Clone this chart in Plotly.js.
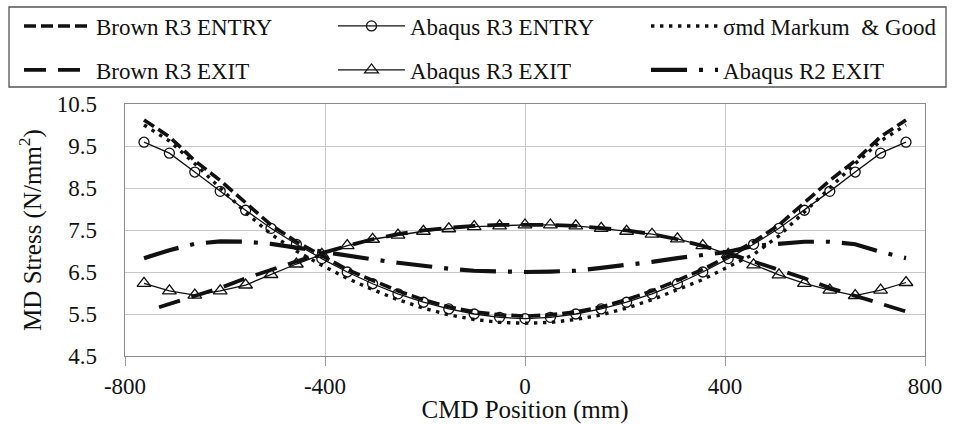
<!DOCTYPE html>
<html>
<head>
<meta charset="utf-8">
<script src="https://cdn.plot.ly/plotly-3.0.1.min.js"></script>
<style>html,body{margin:0;padding:0;background:#fff;}#chart{width:953px;height:424px;}</style>
</head>
<body>
<div id="chart"></div>
<script>
// CMD positions (mm), 2-inch spacing
const cmdX = [-762, -711.2, -660.4, -609.6, -558.8, -508, -457.2, -406.4, -355.6, -304.8, -254, -203.2, -152.4, -101.6, -50.8, 0,
              50.8, 101.6, 152.4, 203.2, 254, 304.8, 355.6, 406.4, 457.2, 508, 558.8, 609.6, 660.4, 711.2, 762];
const brownExitX = [-732, -711.2, -660.4, -609.6, -558.8, -508, -457.2, -406.4, -355.6, -304.8, -254, -203.2, -152.4, -101.6, -50.8, 0,
              50.8, 101.6, 152.4, 203.2, 254, 304.8, 355.6, 406.4, 457.2, 508, 558.8, 609.6, 660.4, 711.2, 762];

const brownR3Entry = [10.12, 9.72, 9.15, 8.68, 8.15, 7.62, 7.22, 6.88, 6.56, 6.30, 6.05, 5.84, 5.67, 5.55, 5.48, 5.45,
                      5.48, 5.55, 5.67, 5.84, 6.05, 6.30, 6.56, 6.88, 7.22, 7.62, 8.15, 8.68, 9.15, 9.72, 10.12];
const abaqusR3Entry = [9.59, 9.33, 8.88, 8.42, 7.97, 7.54, 7.16, 6.82, 6.50, 6.22, 5.98, 5.78, 5.62, 5.50, 5.42, 5.39,
                       5.42, 5.50, 5.62, 5.78, 5.98, 6.22, 6.50, 6.82, 7.16, 7.54, 7.97, 8.42, 8.88, 9.33, 9.59];
const sigmaMarkum = [10.00, 9.62, 9.08, 8.50, 7.92, 7.40, 7.00, 6.66, 6.35, 6.08, 5.84, 5.64, 5.48, 5.37, 5.30, 5.28,
                     5.30, 5.37, 5.48, 5.64, 5.84, 6.08, 6.32, 6.62, 6.92, 7.36, 7.92, 8.50, 9.08, 9.62, 10.00];
const brownR3Exit = [5.66, 5.74, 5.93, 6.12, 6.35, 6.55, 6.75, 6.95, 7.12, 7.28, 7.40, 7.49, 7.55, 7.60, 7.62, 7.63,
                     7.62, 7.60, 7.55, 7.49, 7.40, 7.28, 7.12, 6.95, 6.75, 6.55, 6.35, 6.12, 5.93, 5.74, 5.56];
const abaqusR3Exit = [6.23, 6.05, 5.95, 6.05, 6.19, 6.44, 6.69, 6.92, 7.13, 7.28, 7.38, 7.47, 7.53, 7.58, 7.60, 7.62,
                      7.62, 7.60, 7.54, 7.47, 7.40, 7.29, 7.13, 6.92, 6.67, 6.43, 6.23, 6.07, 5.94, 6.07, 6.25];
const abaqusR2Exit = [6.83, 7.02, 7.17, 7.23, 7.22, 7.17, 7.08, 6.98, 6.88, 6.80, 6.72, 6.64, 6.58, 6.53, 6.51, 6.50,
                      6.51, 6.53, 6.60, 6.66, 6.74, 6.83, 6.90, 6.98, 7.12, 7.18, 7.22, 7.22, 7.16, 6.98, 6.83];

const seriesNames = ['Brown R3 ENTRY', 'Abaqus R3 ENTRY', 'σmd Markum  & Good', 'Brown R3 EXIT', 'Abaqus R3 EXIT', 'Abaqus R2 EXIT'];
const xTickVals = [-800, -400, 0, 400, 800];
const yTickVals = [4.5, 5.5, 6.5, 7.5, 8.5, 9.5, 10.5];

const FONT = 'Liberation Serif';
const K = '#111';
const W = 953, H = 424;

const traces = [
  {x: cmdX, y: brownR3Entry, name: seriesNames[0], mode: 'lines', legend: 'legend',
   line: {color: K, width: 3.6, dash: '12px,5px'}},
  {x: cmdX, y: abaqusR3Entry, name: seriesNames[1], mode: 'lines+markers', legend: 'legend2',
   line: {color: K, width: 1.3}, marker: {symbol: 'circle-open', size: 10, color: K, line: {width: 1.3, color: K}}},
  {x: cmdX, y: sigmaMarkum, name: seriesNames[2], mode: 'lines', legend: 'legend3',
   line: {color: K, width: 3.4, dash: '3.4px,5.6px'}},
  {x: brownExitX, y: brownR3Exit, name: seriesNames[3], mode: 'lines', legend: 'legend4',
   line: {color: K, width: 3.8, dash: '22px,12px'}},
  {x: cmdX, y: abaqusR3Exit, name: seriesNames[4], mode: 'lines+markers', legend: 'legend5',
   line: {color: K, width: 1.3}, marker: {symbol: 'triangle-up-open', size: 12, color: K, line: {width: 1.3, color: K}}},
  {x: cmdX, y: abaqusR2Exit, name: seriesNames[5], mode: 'lines', legend: 'legend6',
   line: {color: K, width: 4.2, dash: '36px,12px,4px,12px'}}
];

function leg(px, py) {
  return {x: px / W, y: 1 - py / H, xref: 'container', yref: 'container',
          xanchor: 'left', yanchor: 'middle', orientation: 'h',
          bgcolor: 'rgba(0,0,0,0)', borderwidth: 0, itemwidth: 67,
          font: {family: FONT, size: 23, color: K}};
}
const c1 = 19, c2 = 333, c3 = 646;
const r1 = 26, r2 = 70;

const layout = {
  width: W, height: H,
  margin: {l: 125, r: 28, t: 104, b: 68},
  paper_bgcolor: '#fff', plot_bgcolor: '#fff',
  font: {family: FONT, color: K},
  showlegend: true,
  legend: leg(c1, r1), legend2: leg(c2, r1), legend3: leg(c3, r1),
  legend4: leg(c1, r2), legend5: leg(c2, r2), legend6: leg(c3, r2),
  xaxis: {
    range: [-800, 800], tickvals: xTickVals, ticktext: xTickVals.map(String),
    showgrid: true, gridcolor: '#c9c9c9', gridwidth: 1, zeroline: false,
    showline: true, linecolor: '#8a8a8a', linewidth: 1.3, mirror: true,
    ticks: 'outside', ticklen: 9, tickcolor: '#9a9a9a', tickwidth: 1,
    tickfont: {family: FONT, size: 23, color: K},
    title: {text: 'CMD Position (mm)', font: {family: FONT, size: 25, color: K}, standoff: 0}
  },
  yaxis: {
    range: [4.5, 10.5], tickvals: yTickVals, ticktext: yTickVals.map(v => v.toFixed(1)),
    showgrid: true, gridcolor: '#c9c9c9', gridwidth: 1, zeroline: false,
    showline: true, linecolor: '#8a8a8a', linewidth: 1.3, mirror: true,
    ticks: '', ticklabelstandoff: 22,
    tickfont: {family: FONT, size: 23, color: K},
    title: {text: 'MD Stress (N/mm<sup>2</sup>)', font: {family: FONT, size: 25, color: K}, standoff: 8}
  },
  shapes: [{
    type: 'rect', xref: 'paper', yref: 'paper',
    x0: (9 - 125) / 800, x1: (946 - 125) / 800, y0: (356 - 87) / 252, y1: (356 - 7) / 252,
    line: {color: '#555', width: 1.3}, fillcolor: 'rgba(0,0,0,0)', layer: 'above'
  }]
};

Plotly.newPlot('chart', traces, layout, {displayModeBar: false, staticPlot: true});
</script>
</body>
</html>
